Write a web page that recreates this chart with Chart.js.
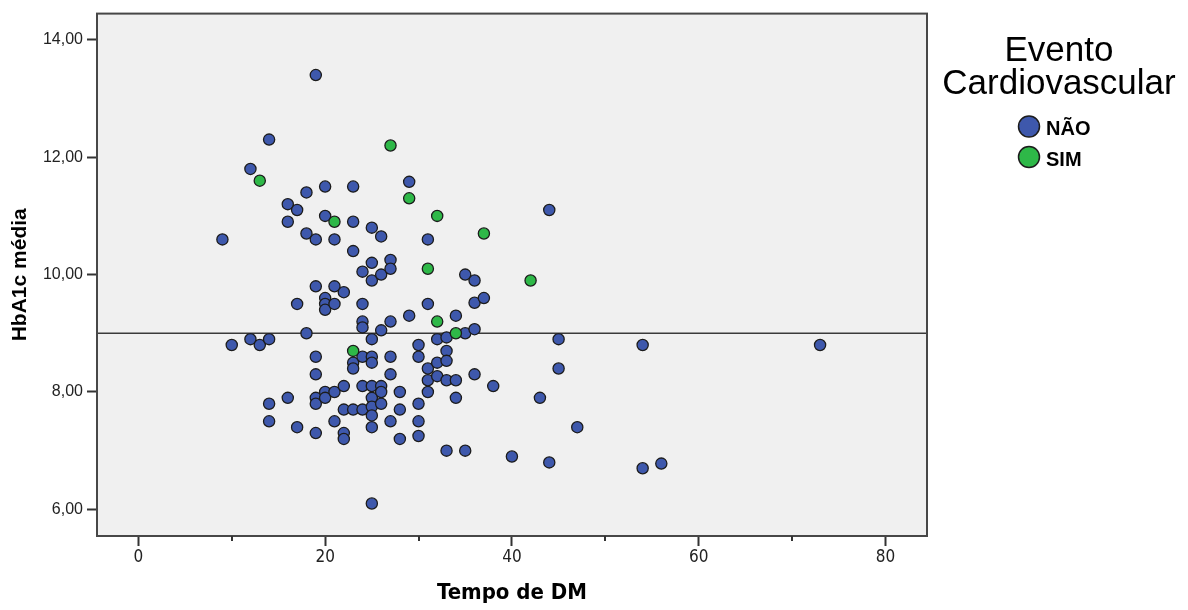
<!DOCTYPE html>
<html>
<head>
<meta charset="utf-8">
<script src="https://cdn.jsdelivr.net/npm/chart.js@4.4.1/dist/chart.umd.min.js"></script>
<style>
  html, body { margin: 0; padding: 0; background: #ffffff; }
  #wrap { width: 1188px; height: 610px; position: relative; }
</style>
</head>
<body>
<div id="wrap"><canvas id="c"></canvas></div>
<script>
// ---- Data ----
const seriesNames = ['NÃO', 'SIM'];
const legendTitle = ['Evento', 'Cardiovascular'];
const xTitle = 'Tempo de DM';
const yTitle = 'HbA1c média';

const naoX = [
  9, 10, 12, 12, 13, 14, 14, 14, 14,
  16, 16, 16, 17, 17, 17, 18, 18, 18,
  19, 19, 19, 19, 19, 19, 19, 19,
  20, 20, 20, 20, 20, 20, 20,
  21, 21, 21, 21, 21,
  22, 22, 22, 22, 22,
  23, 23, 23, 23, 23, 23,
  24, 24, 24, 24, 24, 24, 24,
  25, 25, 25, 25, 25, 25, 25, 25, 25, 25, 25, 25,
  26, 26, 26, 26, 26, 26,
  27, 27, 27, 27, 27, 27,
  28, 28, 28,
  29, 29,
  30, 30, 30, 30, 30,
  31, 31, 31, 31, 31,
  32, 32, 32,
  33, 33, 33, 33, 33,
  34, 34, 34,
  35, 35, 35,
  36, 36, 36, 36,
  37, 38, 40, 43, 44, 44, 45, 45, 47, 54, 54, 56, 73
];
const naoY = [
  10.6, 8.8, 11.8, 8.9, 8.8, 12.3, 8.9, 7.8, 7.5,
  11.2, 10.9, 7.9, 11.1, 9.5, 7.4, 11.4, 10.7, 9.0,
  13.4, 10.6, 9.8, 8.6, 8.3, 7.9, 7.8, 7.3,
  11.5, 11.0, 9.6, 9.5, 9.4, 8.0, 7.9,
  10.6, 9.8, 9.5, 8.0, 7.5,
  9.7, 8.1, 7.7, 7.3, 7.2,
  11.5, 10.9, 10.4, 8.5, 8.4, 7.7,
  10.05, 9.5, 9.2, 9.1, 8.6, 8.1, 7.7,
  10.8, 10.2, 9.9, 8.9, 8.6, 8.5, 8.1, 7.9, 7.75, 7.6, 7.4, 6.1,
  10.65, 10.0, 9.05, 8.1, 8.0, 7.8,
  10.25, 10.1, 9.2, 8.6, 8.3, 7.5,
  8.0, 7.7, 7.2,
  11.58, 9.3,
  8.8, 8.6, 7.8, 7.5, 7.25,
  10.6, 9.5, 8.4, 8.2, 8.0,
  8.9, 8.5, 8.27,
  8.93, 8.7, 8.53, 8.2, 7.0,
  9.3, 8.2, 7.9,
  10.0, 9.0, 7.0,
  9.9, 9.52, 9.07, 8.3,
  9.6, 8.1, 6.9, 7.9, 11.1, 6.8, 8.9, 8.4, 7.4, 8.8, 6.7, 6.78, 8.8
];
const simX = [13, 21, 23, 27, 29, 31, 32, 32, 34, 37, 42];
const simY = [11.6, 10.9, 8.7, 12.2, 11.3, 10.1, 11.0, 9.2, 9.0, 10.7, 9.9];

const xTicks = [0, 20, 40, 60, 80];
const xMinorTicks = [10, 30, 50, 70];
const yTicks = [6, 8, 10, 12, 14];
const refLineY = 9;
const xRange = [-4.43, 84.45];
const yRange = [5.546, 14.447];

// ---- Styles ----
const BLUE = '#3E58AC';
const GREEN = '#2EB848';
const MARK_BORDER = '#1c1c1c';
const FRAME = '#474747';
const SANS = '"Liberation Sans", Arial, sans-serif';
const NARROW = '"Liberation Sans Narrow", "Arial Narrow", "DejaVu Sans Condensed", sans-serif';

const zip = (xs, ys) => xs.map((x, i) => ({ x: x, y: ys[i] }));

const decorPlugin = {
  id: 'decor',
  beforeDraw(chart) {
    const { ctx, chartArea: a } = chart;
    ctx.save();
    ctx.fillStyle = '#ffffff';
    ctx.fillRect(0, 0, chart.width, chart.height);
    ctx.fillStyle = '#F0F0F0';
    ctx.fillRect(a.left, a.top, a.right - a.left, a.bottom - a.top);
    ctx.restore();
  },
  beforeDatasetsDraw(chart) {
    const { ctx, chartArea: a, scales } = chart;
    const py = scales.y.getPixelForValue(refLineY);
    ctx.save();
    ctx.strokeStyle = '#3a3a3a';
    ctx.lineWidth = 1.6;
    ctx.beginPath();
    ctx.moveTo(a.left, py);
    ctx.lineTo(a.right, py);
    ctx.stroke();
    // frame
    ctx.strokeStyle = FRAME;
    ctx.lineWidth = 2;
    ctx.strokeRect(a.left, a.top, a.right - a.left, a.bottom - a.top);
    // minor x ticks
    ctx.strokeStyle = '#333';
    ctx.lineWidth = 2;
    xMinorTicks.forEach(v => {
      const px = Math.round(scales.x.getPixelForValue(v));
      ctx.beginPath();
      ctx.moveTo(px, a.bottom);
      ctx.lineTo(px, a.bottom + 5);
      ctx.stroke();
    });
    ctx.restore();
  },
  afterDraw(chart) {
    const { ctx } = chart;
    ctx.save();
    // legend title
    ctx.fillStyle = '#000';
    ctx.textAlign = 'center';
    ctx.textBaseline = 'alphabetic';
    ctx.font = '35px ' + SANS;
    ctx.fillText(legendTitle[0], 1059, 61);
    ctx.fillText(legendTitle[1], 1059, 94);
    // legend items
    const colors = [BLUE, GREEN];
    const cy = [126.5, 157];
    seriesNames.forEach((name, i) => {
      ctx.beginPath();
      ctx.arc(1029, cy[i], 10.5, 0, Math.PI * 2);
      ctx.fillStyle = colors[i];
      ctx.fill();
      ctx.lineWidth = 1.5;
      ctx.strokeStyle = MARK_BORDER;
      ctx.stroke();
      ctx.fillStyle = '#000';
      ctx.textAlign = 'left';
      ctx.font = 'bold 20px ' + SANS;
      ctx.fillText(name, 1046, cy[i] + 8.5);
    });
    ctx.restore();
  }
};

new Chart(document.getElementById('c'), {
  type: 'scatter',
  data: {
    datasets: [
      {
        label: seriesNames[0],
        data: zip(naoX, naoY),
        backgroundColor: BLUE,
        borderColor: MARK_BORDER,
        borderWidth: 1.3,
        pointRadius: 5.6,
        order: 1
      },
      {
        label: seriesNames[1],
        data: zip(simX, simY),
        backgroundColor: GREEN,
        borderColor: MARK_BORDER,
        borderWidth: 1.3,
        pointRadius: 5.6,
        order: 0
      }
    ]
  },
  options: {
    responsive: true,
    maintainAspectRatio: false,
    animation: false,
    events: [],
    layout: { padding: { top: 12, right: 261, left: 0, bottom: 0 } },
    plugins: {
      legend: { display: false },
      tooltip: { enabled: false }
    },
    scales: {
      x: {
        type: 'linear',
        position: 'bottom',
        min: xRange[0],
        max: xRange[1],
        afterBuildTicks(s) { s.ticks = xTicks.map(v => ({ value: v })); },
        afterFit(s) { s.height = 74; },
        grid: { drawOnChartArea: false, drawTicks: true, tickLength: 10, tickColor: '#333', tickWidth: 2 },
        border: { display: false },
        ticks: {
          autoSkip: false, maxRotation: 0, padding: 1,
          color: '#222',
          font: { family: NARROW, size: 17 },
          callback: v => String(v)
        },
        title: {
          display: true, text: xTitle, color: '#000',
          font: { family: NARROW, size: 22, weight: 'bold' },
          padding: { top: 0, bottom: 4 }
        }
      },
      y: {
        type: 'linear',
        position: 'left',
        min: yRange[0],
        max: yRange[1],
        afterBuildTicks(s) { s.ticks = yTicks.map(v => ({ value: v })); },
        afterFit(s) { s.width = 97; },
        grid: { drawOnChartArea: false, drawTicks: true, tickLength: 10, tickColor: '#333', tickWidth: 2 },
        border: { display: false },
        ticks: {
          autoSkip: false, padding: 4,
          color: '#222',
          font: { family: SANS, size: 16 },
          callback: v => v.toFixed(2).replace('.', ',')
        },
        title: {
          display: true, text: yTitle, color: '#000',
          font: { family: SANS, size: 21, weight: 'bold' },
          padding: { top: 8, bottom: 0 }
        }
      }
    }
  },
  plugins: [decorPlugin]
});
</script>
</body>
</html>
